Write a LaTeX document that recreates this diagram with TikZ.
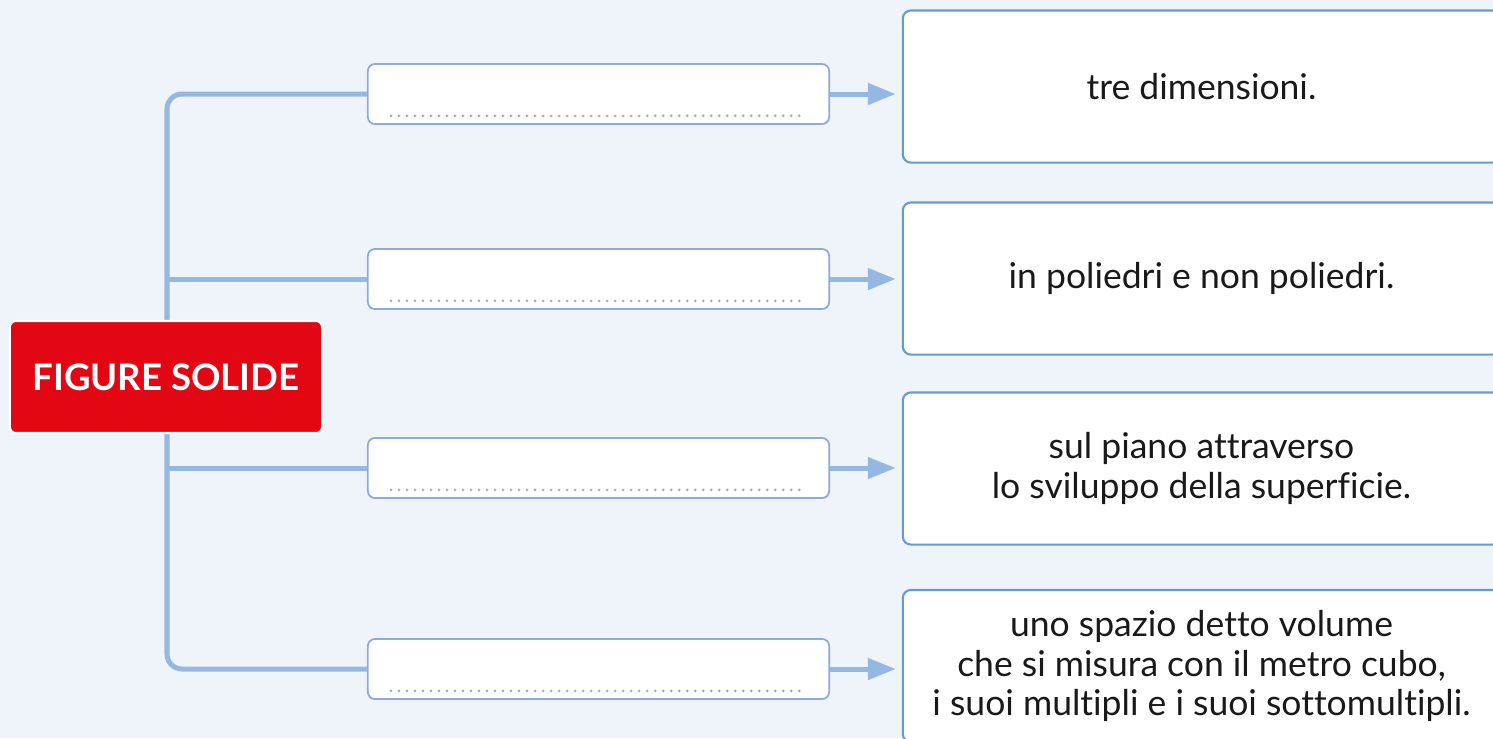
\documentclass[tikz,border=0pt]{standalone}
\usepackage{fontspec}
\setsansfont{Lato}[Ligatures={NoCommon}]
\usetikzlibrary{arrows.meta,positioning}
\definecolor{mapbg}{RGB}{239,244,251}
\definecolor{linkblue}{RGB}{149,184,226}
\definecolor{slotblue}{RGB}{140,170,220}
\definecolor{cardblue}{RGB}{100,155,215}
\definecolor{hubred}{RGB}{227,6,19}
\definecolor{dotgrey}{RGB}{172,172,172}

\begin{document}
\begin{tikzpicture}[x=0.01cm,y=-0.01cm,font=\sffamily,
    slot/.style={draw=slotblue,fill=white,rounded corners=0.07cm,line width=0.5pt,
      minimum width=4.61cm,minimum height=0.6cm},
    card/.style={draw=cardblue,fill=white,rounded corners=0.08cm,line width=0.6pt,
      minimum width=5.97cm,minimum height=1.52cm,align=center,
      font=\sffamily\fontsize{10.1}{11.3}\selectfont,text=black!90},
    hub/.style={draw=white,fill=hubred,rounded corners=0.06cm,line width=0.6pt,
      minimum width=3.12cm,minimum height=1.12cm,text=white,
      font=\sffamily\bfseries\fontsize{10.4}{12}\selectfont},
    link/.style={draw=linkblue,line width=0.05cm,rounded corners=0.15cm},
    arr/.style={draw=linkblue,line width=0.05cm,-{Triangle[length=0.28cm,width=0.21cm]},
      shorten >=0.06cm},
    dots/.style={draw=dotgrey,line width=0.03cm,line cap=round,
      dash pattern=on 0pt off 0.08cm}]
  \useasboundingbox (0,0) rectangle (1493,738);
  \clip (0,0) rectangle (1493,738);
  \fill[mapbg] (0,0) rectangle (1493,738);

  % empty slots on the left, answers on the right
  \foreach \i/\ys/\yc/\txt in {1/94/86.5/{tre dimensioni.},
      2/279/278.5/{in poliedri e non poliedri.},
      3/468/468.5/{sul piano attraverso\\lo sviluppo della superficie.},
      4/669/666/{uno spazio detto volume\\che si misura con il metro cubo,\\i suoi multipli e i suoi sottomultipli.}}{
    \node[slot] (s\i) at (598.5,\ys) {};
    \node[card] (c\i) at (1201.5,\yc) {\txt};
    \draw[dots] ([xshift=0.24cm,yshift=0.09cm]s\i.south west)
      -- ([xshift=-0.27cm,yshift=0.09cm]s\i.south east);
    \draw[arr] (s\i.east) -- (s\i.east -| c\i.west);
  }

  \coordinate (trunk) at (167,377);
  \draw[link] (s1.west) -| (trunk) |- (s4.west);
  \draw[link] (trunk |- s2.west) -- (s2.west);
  \draw[link] (trunk |- s3.west) -- (s3.west);

  \node[hub] (hub) at (166,377) {FIGURE SOLIDE};
\end{tikzpicture}
\end{document}
